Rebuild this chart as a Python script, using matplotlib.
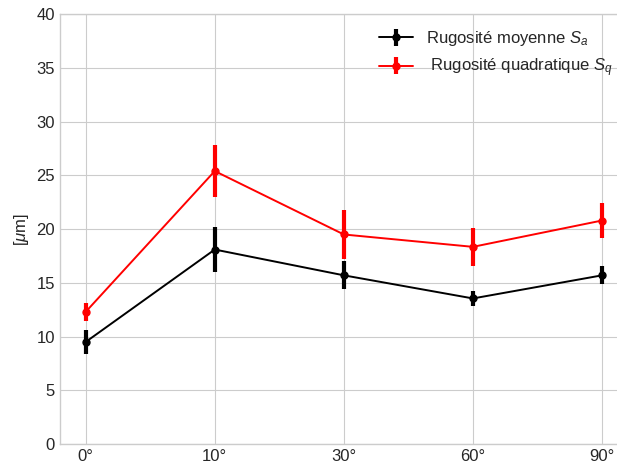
import matplotlib
matplotlib.use("Agg")
import matplotlib.pyplot as plt

plt.style.use('seaborn-v0_8-whitegrid')
plt.rcParams['font.family'] = ['Liberation Sans', 'DejaVu Sans']
plt.rcParams['mathtext.fontset'] = 'custom'
plt.rcParams['mathtext.rm'] = 'Liberation Sans'
plt.rcParams['mathtext.it'] = 'Liberation Sans:italic'

angles = ['0°', '10°', '30°', '60°', '90°']
sa = [9.5, 18.1, 15.7, 13.55, 15.7]
sa_err = [1.1, 2.1, 1.3, 0.7, 0.85]
sq = [12.3, 25.4, 19.5, 18.35, 20.8]
sq_err = [0.85, 2.4, 2.3, 1.75, 1.6]

fig = plt.figure(figsize=(6.17, 4.66), dpi=100)
ax = fig.add_axes([0.097, 0.047, 0.9206, 0.9227])
x = list(range(len(angles)))
ax.errorbar(x, sa, yerr=sa_err, color='k', marker='o', markersize=5,
            elinewidth=3, linewidth=1.4, label='Rugosité moyenne $S_a$')
ax.errorbar(x, sq, yerr=sq_err, color='r', marker='o', markersize=5,
            elinewidth=3, linewidth=1.4, label=' Rugosité quadratique $S_q$')
ax.set_xticks(x)
ax.set_xticklabels(angles)
ax.set_ylim(0, 40)
ax.set_xlim(-0.2, 4.2)
ax.set_ylabel('[$\\mu$m]', fontsize=12)
ax.tick_params(labelsize=12)
ax.legend(loc='upper right', fontsize=12)
fig.savefig('out.png', dpi=100)
